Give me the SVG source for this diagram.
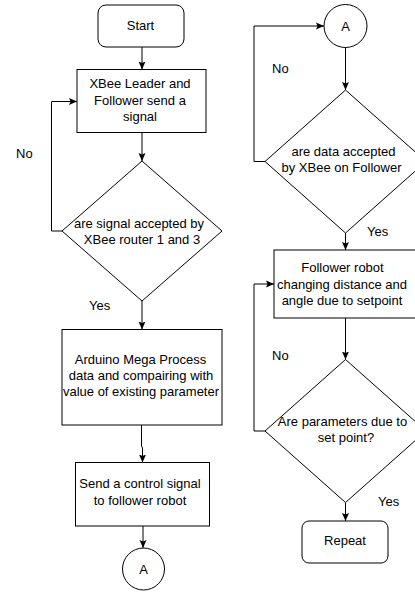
<svg xmlns="http://www.w3.org/2000/svg" width="415" height="592" viewBox="0 0 415 592">
<defs>
<marker id="arr" markerUnits="userSpaceOnUse" markerWidth="10" markerHeight="8" refX="8" refY="4" orient="auto">
<path d="M0,0.5 L8,4 L0,7.5 L1.5,4 z" fill="#000"/>
</marker>
<style>
.s{fill:#fff;stroke:#000;stroke-width:1}
.c{fill:none;stroke:#000;stroke-width:1;marker-end:url(#arr)}
text{font-family:"Liberation Sans",Arial,Helvetica,sans-serif;font-size:13px;fill:#000}
.m{text-anchor:middle}
</style>
</defs>
<rect width="415" height="592" fill="#fff"/>
<g id="connectors">
<path class="c" d="M142,47 V69.5"/>
<path class="c" d="M142,132.5 V161"/>
<path class="c" d="M62,231 H51.5 V101.5 H77"/>
<path class="c" d="M142,301 V329.5"/>
<path class="c" d="M141.5,425 V446 L142.5,448 V462.5"/>
<path class="c" d="M143,526 V548"/>
<path class="c" d="M345.5,47 V90"/>
<path class="c" d="M265,161.5 H254 V26 H324"/>
<path class="c" d="M345.5,233 V250"/>
<path class="c" d="M345.5,318 V359.5"/>
<path class="c" d="M265,431 H254 V284 H274"/>
<path class="c" d="M345.5,502.5 V521"/>
</g>
<g id="start">
<rect class="s" x="98" y="5" width="86" height="42" rx="8"/>
<text class="m" x="140.5" y="29.5">Start</text>
</g>
<g id="send-signal">
<rect class="s" x="77" y="69.5" width="129" height="63"/>
<text class="m" x="140" y="88">XBee Leader and</text>
<text class="m" x="140" y="104.5">Follower send a</text>
<text class="m" x="140" y="120.5">signal</text>
</g>
<g id="decision-router">
<polygon class="s" points="142,161 222,231 142,301 62,231"/>
<text class="m" x="139" y="227.5">are signal accepted by</text>
<text class="m" x="142" y="243.5">XBee router 1 and 3</text>
</g>
<g id="arduino">
<rect class="s" x="62" y="329.5" width="160" height="95.5"/>
<text class="m" x="140.5" y="364">Arduino Mega Process</text>
<text class="m" x="141" y="380">data and compairing with</text>
<text class="m" x="141" y="395.5">value of existing parameter</text>
</g>
<g id="control-signal">
<rect class="s" x="75.5" y="462.5" width="134" height="63.5"/>
<text class="m" x="140" y="488">Send a control signal</text>
<text class="m" x="140" y="504.5">to follower robot</text>
</g>
<g id="connector-a-out">
<circle class="s" cx="143.5" cy="569" r="21"/>
<text class="m" x="143.5" y="573.5">A</text>
</g>
<g id="connector-a-in">
<circle class="s" cx="345.5" cy="26" r="21.5"/>
<text class="m" x="345.5" y="30.5">A</text>
</g>
<g id="decision-follower">
<polygon class="s" points="345.5,90 426,161.5 345.5,233 265,161.5"/>
<text class="m" x="343.5" y="156">are data accepted</text>
<text class="m" x="341.5" y="172">by XBee on Follower</text>
</g>
<g id="follower-move">
<rect class="s" x="274" y="250" width="145" height="68"/>
<text class="m" x="342.5" y="272">Follower robot</text>
<text class="m" x="342" y="288.5">changing distance and</text>
<text class="m" x="342" y="305">angle due to setpoint</text>
</g>
<g id="decision-setpoint">
<polygon class="s" points="345.5,359.5 426,431 345.5,502.5 265,431"/>
<text class="m" x="342.5" y="425.5">Are parameters due to</text>
<text class="m" x="346" y="442">set point?</text>
</g>
<g id="repeat">
<rect class="s" x="302" y="521" width="86" height="42" rx="7"/>
<text class="m" x="345" y="544.5">Repeat</text>
</g>
<g id="labels">
<text x="16" y="157.5">No</text>
<text x="89" y="309.5">Yes</text>
<text x="272" y="72.5">No</text>
<text x="367" y="236">Yes</text>
<text x="272" y="359.5">No</text>
<text x="378" y="506">Yes</text>
</g>
</svg>
